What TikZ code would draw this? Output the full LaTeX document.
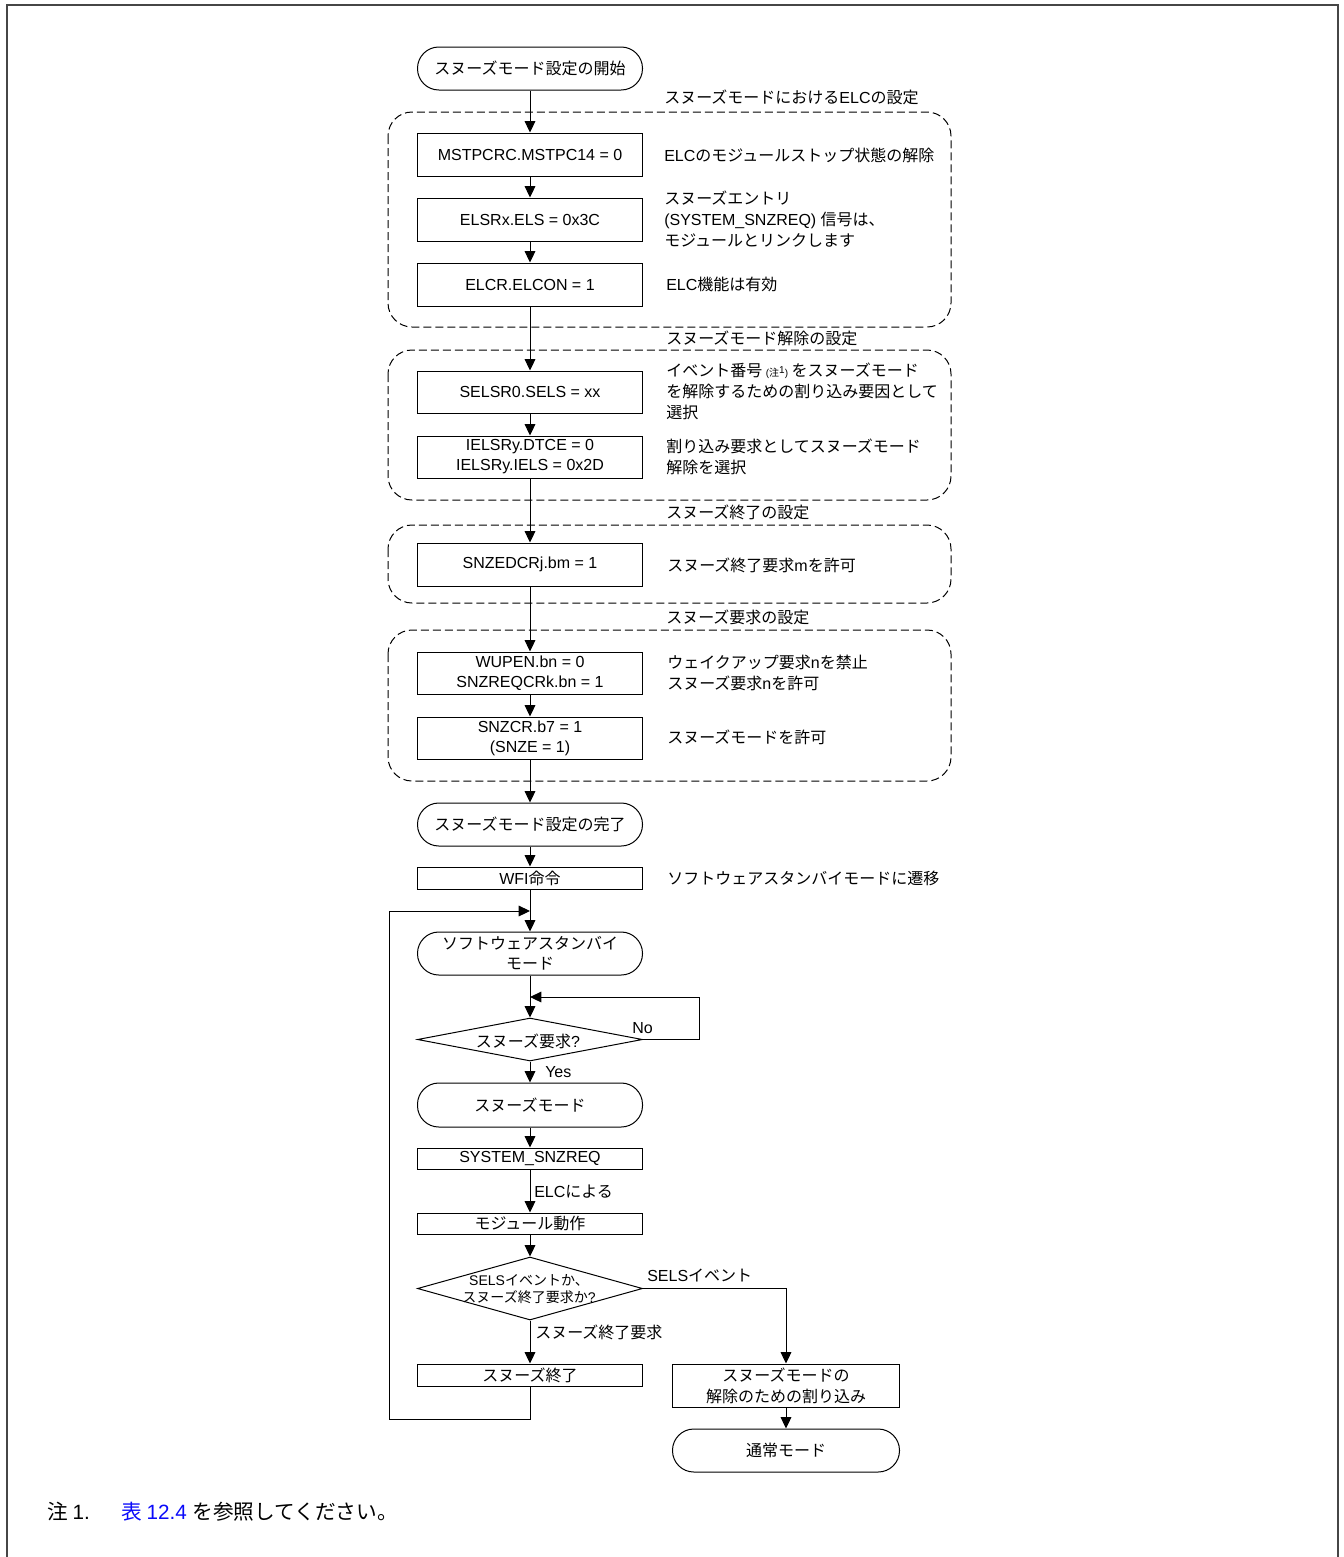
\documentclass[tikz,border=0pt]{standalone}
\usepackage{fontspec}
\setmainfont{Liberation Sans}
\newfontfamily\latinfont{Liberation Sans}
\newfontfamily\jpfont{Noto Sans CJK JP}
\usetikzlibrary{arrows.meta,shapes.geometric}
\definecolor{linkblue}{RGB}{10,10,250}
\definecolor{framegray}{RGB}{70,70,70}
\newcount\jpc
\newXeTeXintercharclass\JPclass
\def\setjprange#1#2{\jpc=#1 \loop\XeTeXcharclass\jpc=\JPclass \ifnum\jpc<#2 \advance\jpc by 1 \repeat}
\setjprange{"3000}{"30FF}
\setjprange{"4E00}{"9FFF}
\setjprange{"FF00}{"FFEF}
\XeTeXinterchartoks 0 \JPclass = {\jpfont}
\XeTeXinterchartoks 4095 \JPclass = {\jpfont}
\XeTeXinterchartoks \JPclass 0 = {\latinfont}
\XeTeXinterchartoks 4095 0 = {\latinfont}
\begin{document}
\XeTeXinterchartokenstate=1
\begin{tikzpicture}[x=0.75pt,y=-0.75pt,
  ln/.style={line width=0.75pt},
  arr/.style={draw, line width=0.75pt, -{Triangle[length=8.5pt,width=8pt]}},
  box/.style={draw, line width=0.75pt, minimum width=168.75pt, inner sep=0pt, align=center, font=\fontsize{12}{15}\selectfont},
  term/.style={box, rounded corners=16pt},
  grp/.style={draw, dash pattern=on 6pt off 3pt, rounded corners=18pt, line width=0.75pt},
  note/.style={anchor=west, align=left, inner sep=0pt, font=\fontsize{12}{15.75}\selectfont},
  glabel/.style={anchor=west, inner sep=0pt, font=\fontsize{12}{15}\selectfont},
  dia/.style={draw, diamond, line width=0.75pt, inner sep=0pt, minimum width=168.75pt},
  foot/.style={anchor=base west, inner sep=0pt, font=\fontsize{15.5}{17}\selectfont}
]
\useasboundingbox (0,0) rectangle (1343,1557);
% frame
\draw[framegray, line width=1.5pt] (7,1557) -- (7,5) -- (1338,5) -- (1338,1557);

% groups
\draw[grp] (388,112) rectangle (951,327);
\draw[grp] (388,350) rectangle (951,500);
\draw[grp] (388,525) rectangle (951,603);
\draw[grp] (388,630) rectangle (951,781);
\node[glabel] (g1) at (664,97) {スヌーズモードにおけるELCの設定};
\node[glabel] (g2) at (666,338) {スヌーズモード解除の設定};
\node[glabel] (g3) at (666,512) {スヌーズ終了の設定};
\node[glabel] (g4) at (666,617) {スヌーズ要求の設定};

% main column
\node[term, minimum height=32.25pt] (start) at (530,68.5) {スヌーズモード設定の開始};
\node[box, minimum height=32.25pt] (b1) at (530,154.5) {MSTPCRC.MSTPC14 = 0};
\node[box, minimum height=32.25pt] (b2) at (530,219.5) {ELSRx.ELS = 0x3C};
\node[box, minimum height=32.25pt] (b3) at (530,284.5) {ELCR.ELCON = 1};
\node[box, minimum height=31.5pt] (b4) at (530,392) {SELSR0.SELS = xx};
\node[box, minimum height=31.5pt] (b5) at (530,457) {IELSRy.DTCE = 0\\IELSRy.IELS = 0x2D};
\node[box, minimum height=32.25pt] (b6) at (530,564.5) {SNZEDCRj.bm = 1};
\node[box, minimum height=31.5pt] (b7) at (530,673) {WUPEN.bn = 0\\SNZREQCRk.bn = 1};
\node[box, minimum height=31.5pt] (b8) at (530,738) {SNZCR.b7 = 1\\(SNZE = 1)};
\node[term, minimum height=32.25pt] (endt) at (530,824.5) {スヌーズモード設定の完了};
\node[box, minimum height=16.5pt] (wfi) at (530,878) {WFI命令};
\node[term, minimum height=32.25pt] (standby) at (530,953.5) {ソフトウェアスタンバイ\\モード};
\node[dia, minimum height=32.25pt] (d1) at (530,1039.5) {};
\node[inner sep=0pt, font=\fontsize{12}{15}\selectfont] (d1t) at (528,1041) {スヌーズ要求?};
\node[term, minimum height=33pt] (snz) at (530,1105) {スヌーズモード};
\node[box, minimum height=15.75pt] (sreq) at (530,1158.5) {SYSTEM\_SNZREQ};
\node[box, minimum height=15.75pt] (mod) at (530,1223.5) {モジュール動作};
\node[dia, minimum height=47.25pt] (d2) at (530,1288.5) {};
\node[inner sep=0pt, align=center, font=\fontsize{10.5}{13}\selectfont] (d2t) at (529,1289) {SELSイベントか、\\スヌーズ終了要求か?};
\node[box, minimum height=16.5pt] (snzend) at (530,1375) {スヌーズ終了};
\node[box, minimum width=170.25pt, minimum height=32.25pt, font=\fontsize{12}{15.75}\selectfont] (intbox) at (786,1385.5) {スヌーズモードの\\解除のための割り込み};
\node[term, minimum width=170.25pt, minimum height=32.25pt] (normal) at (786,1450.5) {通常モード};

% right notes
\node[note] (t1) at (664,155) {ELCのモジュールストップ状態の解除};
\node[note] (t2) at (664,219.5) {スヌーズエントリ\\(SYSTEM\_SNZREQ) 信号は、\\モジュールとリンクします};
\node[note] (t3) at (666,284.5) {ELC機能は有効};
\node[note] (t4) at (666,391.5) {イベント番号 {\fontsize{7.5}{8}\selectfont (注\raisebox{2.5pt}{1})} をスヌーズモード\\を解除するための割り込み要因として\\選択};
\node[note] (t5) at (666,457) {割り込み要求としてスヌーズモード\\解除を選択};
\node[note] (t6) at (667,565) {スヌーズ終了要求mを許可};
\node[note] (t7) at (667,673) {ウェイクアップ要求nを禁止\\スヌーズ要求nを許可};
\node[note] (t8) at (667,737) {スヌーズモードを許可};
\node[note] (t9) at (667,878) {ソフトウェアスタンバイモードに遷移};

% connector labels
\node[glabel] (lno) at (632,1028) {No};
\node[glabel] (lyes) at (545,1072) {Yes};
\node[glabel] (lelc) at (534,1192) {ELCによる};
\node[glabel] (lsels) at (647,1275) {SELSイベント};
\node[glabel] (lend) at (535,1332) {スヌーズ終了要求};

% connectors
\draw[arr] (start) -- (b1);
\draw[arr] (b1) -- (b2);
\draw[arr] (b2) -- (b3);
\draw[arr] (b3) -- (b4);
\draw[arr] (b4) -- (b5);
\draw[arr] (b5) -- (b6);
\draw[arr] (b6) -- (b7);
\draw[arr] (b7) -- (b8);
\draw[arr] (b8) -- (endt);
\draw[arr] (endt) -- (wfi);
\draw[arr] (wfi) -- (standby);
\draw[arr] (standby) -- (d1);
\draw[arr] (d1) -- (snz);
\draw[arr] (snz) -- (sreq);
\draw[arr] (sreq) -- (mod);
\draw[arr] (mod) -- (d2);
\draw[arr] (d2) -- (snzend);
\draw[arr] (d2.east) -| (intbox);
\draw[arr] (intbox) -- (normal);
\coordinate (njoin) at (530,997);
\draw[arr] (d1.east) -- ++(56,0) |- (njoin);
\coordinate (ljoin) at (530,911);
\draw[arr] (snzend.south) -- ++(0,33) -| (389,911) -- (ljoin);

% footnote
\node[foot] (fn1) at (47,1519) {注 1.};
\node[foot] (fn2) at (121,1519) {\textcolor{linkblue}{表 12.4} を参照してください。};
\end{tikzpicture}
\end{document}
